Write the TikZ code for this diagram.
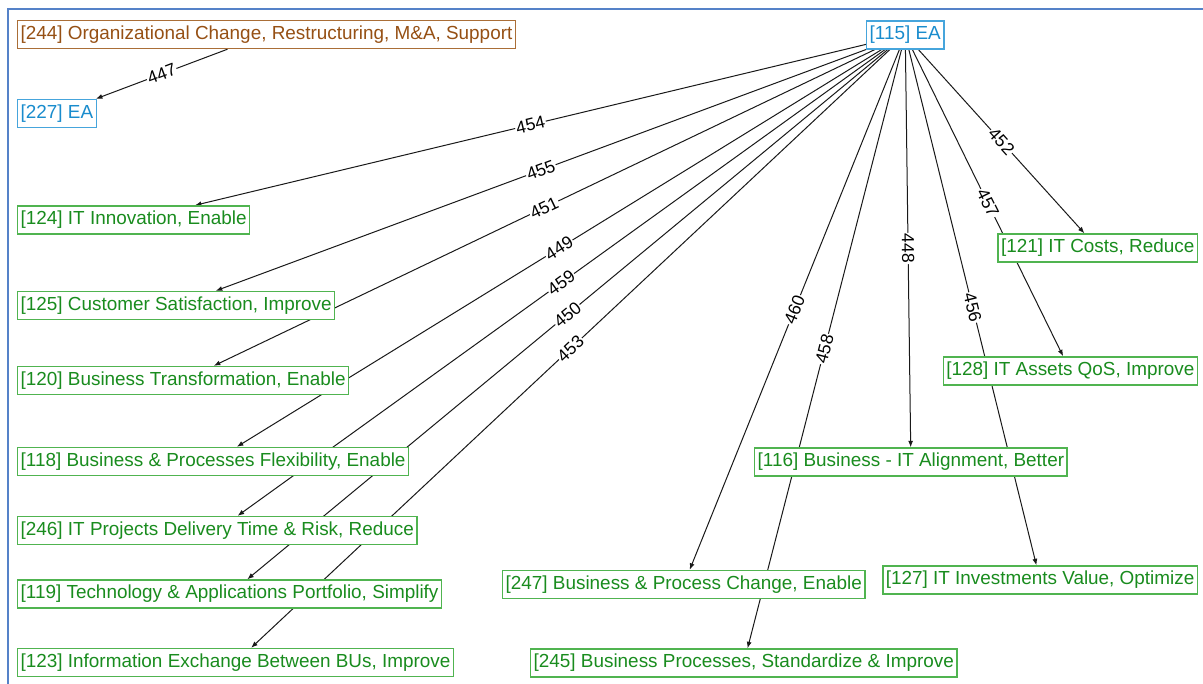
\documentclass[tikz,border=0pt]{standalone}
\usepackage{fontspec}
\setmainfont{Liberation Sans}
\usetikzlibrary{arrows.meta}
\definecolor{goaltext}{RGB}{25,140,30}
\definecolor{goalline}{RGB}{80,180,80}
\definecolor{eatext}{RGB}{25,140,205}
\definecolor{ealine}{RGB}{70,165,220}
\definecolor{orgtext}{RGB}{150,80,20}
\definecolor{orgline}{RGB}{170,110,55}
\definecolor{framecol}{RGB}{85,130,200}
\pgfdeclarelayer{links}
\pgfsetlayers{links,main}

\begin{document}
\begin{tikzpicture}[x=1pt,y=-1pt,
  box/.style={draw, line width=1.4pt, inner xsep=3pt, inner ysep=0pt,
    minimum height=28pt, anchor=west, fill=white,
    font=\fontsize{18.9}{20}\selectfont},
  goal/.style={box, draw=goalline, text=goaltext},
  ea/.style={box, draw=ealine, text=eatext},
  org/.style={box, draw=orgline, text=orgtext},
  link/.style={draw=black!90, line width=1pt,
    -{Latex[length=6.5pt,width=5pt]}},
  num/.style={midway, sloped, fill=white, inner sep=1pt,
    font=\fontsize{17.5}{18}\selectfont}]

\useasboundingbox (0,0) rectangle (1203,684);

% window frame
\draw[framecol, line width=2pt] (8,684) -- (8,9.5) -- (1203,9.5);

% nodes (white-filled, so links running behind them are hidden)
\node[org]  (n244) at (17,34.5)  {[244] Organizational Change, Restructuring, M\&A, Support};
\node[ea]   (n227) at (17,113.5) {[227] EA};
\node[ea]   (n115) at (866,35)   {[115] EA};

\node[goal] (n124) at (17,220)   {[124] IT Innovation, Enable};
\node[goal] (n125) at (17,305.5) {[125] Customer Satisfaction, Improve};
\node[goal] (n120) at (17,380.5) {[120] Business Transformation, Enable};
\node[goal] (n118) at (17,461.5) {[118] Business \& Processes Flexibility, Enable};
\node[goal] (n246) at (17,530.5) {[246] IT Projects Delivery Time \& Risk, Reduce};
\node[goal] (n119) at (17,594)   {[119] Technology \& Applications Portfolio, Simplify};
\node[goal] (n123) at (17,662.5) {[123] Information Exchange Between BUs, Improve};

\node[goal] (n247) at (502,584.5) {[247] Business \& Process Change, Enable};
\node[goal] (n245) at (530,663)   {[245] Business Processes, Standardize \& Improve};
\node[goal] (n116) at (754,462)   {[116] Business - IT Alignment, Better};
\node[goal, anchor=east] (n127) at (1198,580) {[127] IT Investments Value, Optimize};
\node[goal, anchor=east] (n121) at (1198,248) {[121] IT Costs, Reduce};
\node[goal, anchor=east] (n128) at (1198,371) {[128] IT Assets QoS, Improve};

% links, drawn beneath the boxes
\begin{pgfonlayer}{links}
\draw[link] (n244) -- node[num]{447} (n227);

\draw[link] (n115) -- node[num]{454} (n124);
\draw[link] (n115) -- node[num]{455} (n125);
\draw[link] (n115) -- node[num]{451} (n120);
\draw[link] (n115) -- node[num]{449} (n118);
\draw[link] (n115) -- node[num]{459} (n246);
\draw[link] (n115) -- node[num]{450} (n119);
\draw[link] (n115) -- node[num]{453} (n123);
\draw[link] (n115) -- node[num]{460} (n247);
\draw[link] (n115) -- node[num]{458} (n245);
\draw[link] (n115) -- node[num]{448} (n116);
\draw[link] (n115) -- node[num]{456} (n127);
\draw[link] (n115) -- node[num]{457} (n128);
\draw[link] (n115) -- node[num]{452} (n121);
\end{pgfonlayer}

\end{tikzpicture}
\end{document}
